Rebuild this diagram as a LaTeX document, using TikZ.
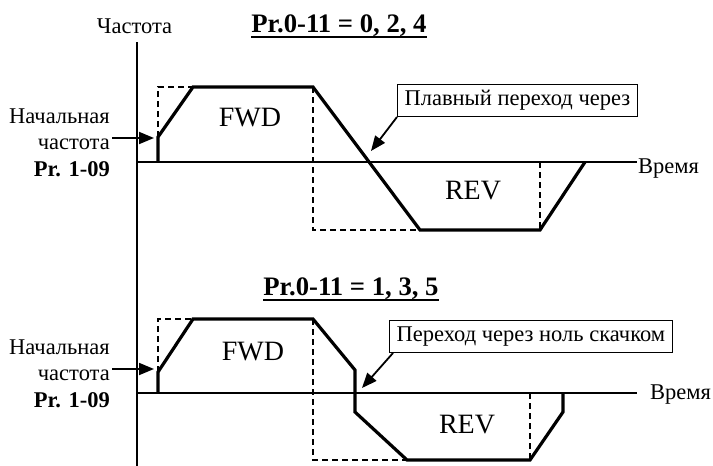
\documentclass[tikz,border=0pt]{standalone}
\usepackage{fontspec}
\setmainfont{Liberation Serif}
\usetikzlibrary{positioning,arrows.meta}

\tikzset{
  curve/.style={line width=3.2pt},
  axis/.style={line width=1.6pt},
  guide/.style={line width=1.2pt, dash pattern=on 6pt off 4pt},
  label/.style={font=\fontsize{22.5}{24}\selectfont, inner sep=0pt},
  dirtext/.style={font=\fontsize{28}{30}\selectfont, inner sep=0pt},
  titletext/.style={font=\fontsize{26.7}{28}\selectfont\bfseries, inner sep=0pt},
  callout/.style={draw, line width=1.2pt, font=\fontsize{22.5}{24}\selectfont,
    inner xsep=7pt, inner ysep=6pt, anchor=south west},
  pointer/.style={line width=1.8pt, -{Triangle[length=15pt,width=12pt]}}
}

\begin{document}
\begin{tikzpicture}[x=1pt,y=-1pt]
    \useasboundingbox (0,0) rectangle (713,466);

    \coordinate (ytop) at (137,42);
    \coordinate (ybot) at (137,466);
    \draw[axis] (ytop) -- (ybot);
    \node[label, anchor=base] (freq) at (134.5,33) {Частота};

    % Pr.0-11 = 0, 2, 4
    \coordinate (o1) at (137,162);
    \coordinate [right = 500pt of o1] (t1);
    \draw[axis] (o1) -- (t1);
    \node[label, anchor=base west] (time1) at (638,173) {Время};

    \node[titletext, anchor=base] (title1) at (339,32) {Pr.0-11 = 0, 2, 4};
    \draw[line width=2pt] ([yshift=-5pt]title1.base west) -- ([yshift=-5pt]title1.base east);

    \draw[guide] (158,137) -- (158,87) -- (193,87);
    \draw[guide] (313,87) -- (313,230) -- (420,230);
    \draw[guide] (540,162) -- (540,230);
    \draw[curve] (158,162) -- (158,137) -- (193,87) -- (313,87) -- (420,230)
        -- (540,230) -- (585,162);

    \node[dirtext] (fwd1) at (250,118) {FWD};
    \node[dirtext] (rev1) at (473,191) {REV};

    \node[label, anchor=base east] (start1a) at (110,123) {Начальная};
    \node[label, anchor=base east] (start1b) at (110,149) {частота};
    \node[label, anchor=base east, font=\fontsize{22.5}{24}\selectfont\bfseries] (start1c) at (110,176) {Pr. 1-09};
    \coordinate (tip1) at (154,138);
    \draw[pointer] ([xshift=2pt]start1b.east |- tip1) -- (tip1);

    \node[callout] (smooth) at (397,117) {Плавный переход через};
    \coordinate (cross1) at (371,151);
    \draw[pointer] (smooth.south west) -- (cross1);

    % Pr.0-11 = 1, 3, 5
    \coordinate (o2) at (137,393);
    \coordinate [right = 500pt of o2] (t2);
    \draw[axis] (o2) -- (t2);
    \node[label, anchor=base west] (time2) at (650,399) {Время};

    \node[titletext, anchor=base] (title2) at (351,295) {Pr.0-11 = 1, 3, 5};
    \draw[line width=2pt] ([yshift=-5pt]title2.base west) -- ([yshift=-5pt]title2.base east);

    \draw[guide] (158,372) -- (158,319) -- (193,319);
    \draw[guide] (313,319) -- (313,460) -- (407,460);
    \draw[guide] (530,393) -- (530,460);
    \draw[curve] (158,393) -- (158,372) -- (193,319) -- (313,319) -- (355,370)
        -- (355,412) -- (407,460) -- (530,460) -- (563,412) -- (563,393);

    \node[dirtext] (fwd2) at (253,352) {FWD};
    \node[dirtext] (rev2) at (467,425) {REV};

    \node[label, anchor=base east] (start2a) at (110,354) {Начальная};
    \node[label, anchor=base east] (start2b) at (110,380) {частота};
    \node[label, anchor=base east, font=\fontsize{22.5}{24}\selectfont\bfseries] (start2c) at (110,407) {Pr. 1-09};
    \coordinate (tip2) at (154,369);
    \draw[pointer] ([xshift=2pt]start2b.east |- tip2) -- (tip2);

    \node[callout] (jump) at (389,353) {Переход через ноль скачком};
    \coordinate (cross2) at (362,388);
    \draw[pointer] ([xshift=4pt]jump.south west) -- (cross2);
\end{tikzpicture}
\end{document}
